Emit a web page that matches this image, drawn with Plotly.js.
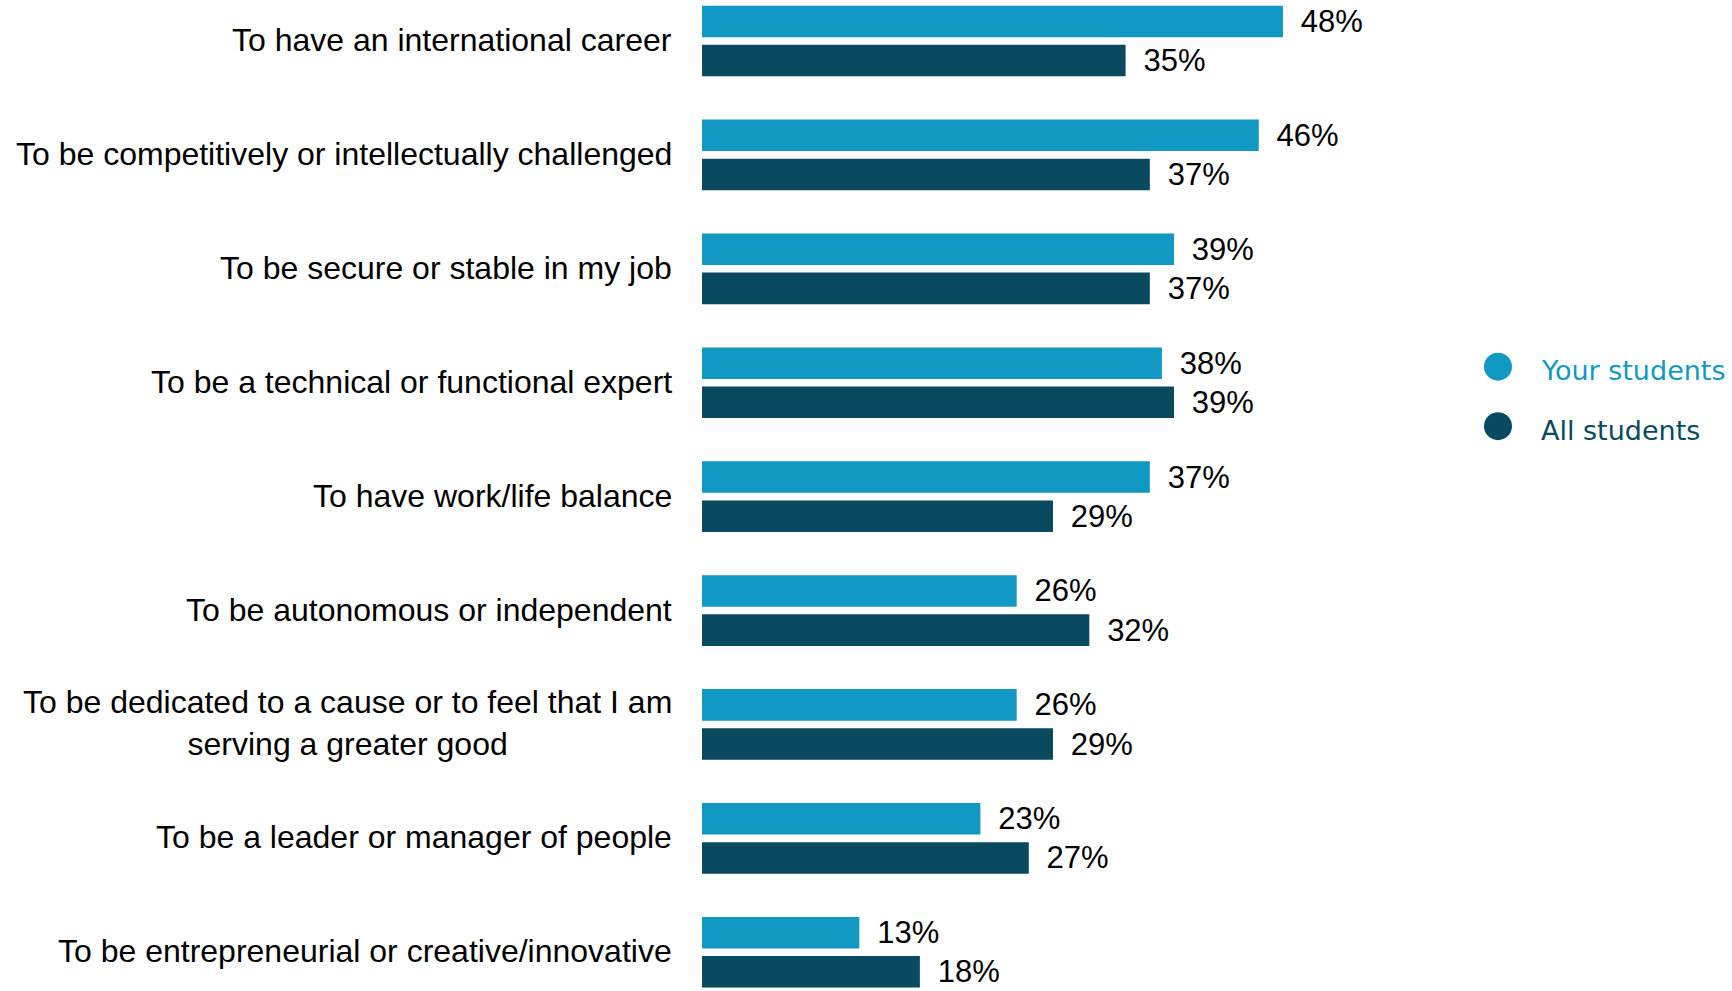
<!DOCTYPE html>
<html>
<head>
<meta charset="utf-8">
<script src="https://cdn.plot.ly/plotly-3.0.1.min.js"></script>
<style>html,body{margin:0;padding:0;background:#fff;}#chart{width:1732px;height:991px;}</style>
</head>
<body>
<div id="chart"></div>
<script>
const categories = [
  "To have an international career",
  "To be competitively or intellectually challenged",
  "To be secure or stable in my job",
  "To be a technical or functional expert",
  "To have work/life balance",
  "To be autonomous or independent",
  "To be dedicated to a cause or to feel that I am<br>serving a greater good",
  "To be a leader or manager of people",
  "To be entrepreneurial or creative/innovative"
];
const yourStudents = [48, 46, 39, 38, 37, 26, 26, 23, 13];
const allStudents = [35, 37, 37, 39, 29, 32, 29, 27, 18];
const seriesNames = ["Your students", "All students"];
const seriesColors = ["#1199c4", "#094a60"];

const labelFont = {family: "Liberation Sans", size: 32, color: "#000000"};
const valueFont = {family: "Liberation Sans", size: 31, color: "#000000"};

const traces = [yourStudents, allStudents].map((vals, i) => ({
  type: "bar",
  orientation: "h",
  name: seriesNames[i],
  x: vals,
  y: categories,
  marker: {color: seriesColors[i], line: {width: 0}},
  texttemplate: "\u00a0\u2009%{x}%",
  textposition: "outside",
  constraintext: "none",
  textfont: valueFont,
  cliponaxis: false,
  hoverinfo: "skip",
  showlegend: false
}));

const annotations = categories.map(c => ({
  xref: "paper", yref: "y",
  x: -0.0272, y: c,
  xanchor: "right", yanchor: "middle",
  yshift: 1,
  align: "center",
  text: c,
  showarrow: false,
  font: labelFont
}));

const legendY = [0.630, 0.570];
const legendFont = "DejaVu Sans";
const shapes = [];
seriesNames.forEach((n, i) => {
  shapes.push({
    type: "circle", xref: "paper", yref: "paper",
    xsizemode: "pixel", ysizemode: "pixel",
    xanchor: 0.7728, yanchor: legendY[i],
    x0: -14, x1: 14, y0: -14, y1: 14,
    fillcolor: seriesColors[i], line: {width: 0}
  });
  annotations.push({
    xref: "paper", yref: "paper",
    x: 0.8130, y: legendY[i] - 0.004,
    xanchor: "left", yanchor: "middle",
    text: n, showarrow: false,
    font: {family: legendFont, size: 27, color: seriesColors[i]}
  });
});

const layout = {
  width: 1732, height: 991,
  margin: {l: 702, r: 0, t: 0, b: 0, pad: 0},
  paper_bgcolor: "#ffffff", plot_bgcolor: "#ffffff",
  barmode: "group",
  bargap: 0.313,
  bargroupgap: 0.194,
  showlegend: false,
  xaxis: {range: [0, 85.1], showgrid: false, zeroline: false, showticklabels: false, showline: false, ticks: ""},
  yaxis: {type: "category", range: [8.34, -0.36], showgrid: false, zeroline: false, showticklabels: false, showline: false, ticks: ""},
  annotations: annotations,
  shapes: shapes
};

Plotly.newPlot("chart", traces, layout, {staticPlot: true, displayModeBar: false});
</script>
</body>
</html>
